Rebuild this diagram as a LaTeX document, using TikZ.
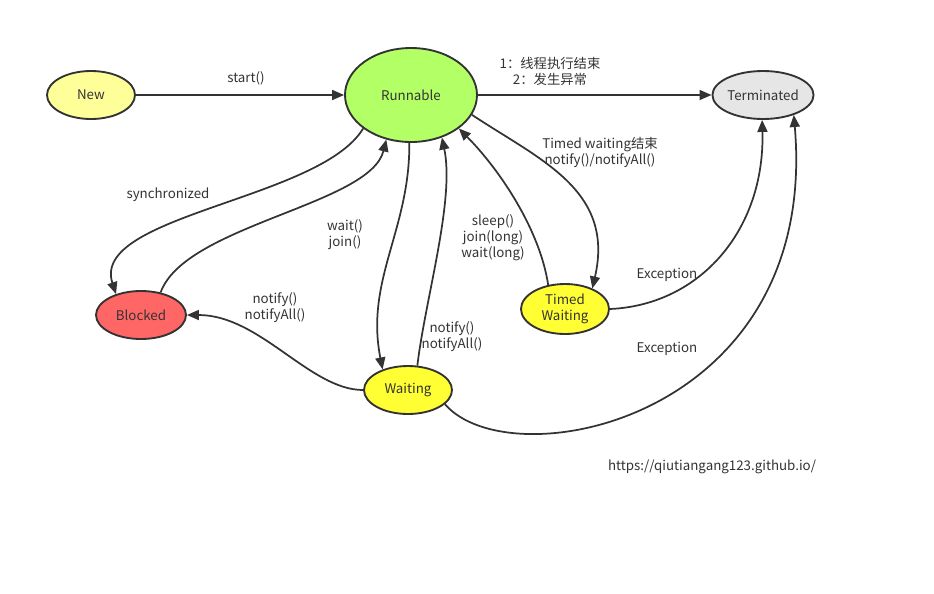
\documentclass[tikz,border=0pt]{standalone}
\usepackage{fontspec}
\setmainfont{Noto Sans CJK SC}
\usepackage{tikz}
\usetikzlibrary{arrows.meta,shapes.geometric}
\definecolor{edgegray}{HTML}{333333}
\definecolor{newfill}{HTML}{FFFF99}
\definecolor{runfill}{HTML}{B3FF66}
\definecolor{termfill}{HTML}{E6E6E6}
\definecolor{blockfill}{HTML}{FF6666}
\definecolor{waitfill}{HTML}{FFFF33}

\begin{document}
\begin{tikzpicture}[
  x=0.75pt, y=-0.75pt,
  state/.style={ellipse, draw=edgegray, line width=1.4pt, inner sep=0pt, align=center, text=edgegray, font=\fontsize{10pt}{12pt}\selectfont},
  lbl/.style={align=center, text=edgegray, inner sep=0pt, font=\fontsize{10pt}{12pt}\selectfont},
  arrow/.style={-{Triangle[length=9pt,width=7.5pt]}, line width=1.3pt, draw=edgegray}
]
\useasboundingbox (0,0) rectangle (934,593);

\node[state, fill=newfill, minimum width=66pt, minimum height=36pt] (new) at (91,95) {New};
\node[state, fill=runfill, minimum width=99pt, minimum height=70.5pt] (run) at (411,95) {Runnable};
\node[state, fill=termfill, minimum width=70.5pt, minimum height=36pt] (term) at (763,95) {Terminated};
\node[state, fill=blockfill, minimum width=67.5pt, minimum height=36pt] (blk) at (141,315) {Blocked};
\node[state, fill=waitfill, minimum width=66pt, minimum height=37.5pt] (timed) at (565,309) {Timed\\Waiting};
\node[state, fill=waitfill, minimum width=66pt, minimum height=36pt] (wait) at (408,390) {Waiting};

\node[lbl] (lstart) at (246,78) {start()};
\node[lbl] (lend) at (550,71) {1：线程执行结束\\2：发生异常};
\node[lbl] (lsync) at (168,195) {synchronized};
\node[lbl] (lwait) at (345,235) {wait()\\join()};
\node[lbl] (lsleep) at (493,238) {sleep()\\join(long)\\wait(long)};
\node[lbl] (ltimeout) at (600,152) {Timed waiting结束\\notify()/notifyAll()};
\node[lbl] (lnotifyb) at (275,308) {notify()\\notifyAll()};
\node[lbl] (lnotifyr) at (452,337) {notify()\\notifyAll()};
\node[lbl] (lexc) at (667,275) {Exception};
\node[lbl] (lexcw) at (667,349) {Exception};
\node[lbl] (url) at (712,467) {https://qiutiangang123.github.io/};

\draw[arrow] (new) -- (run);
\draw[arrow] (run) -- (term);
\draw[arrow] (run.215) .. controls (320,200) and (90,215) .. (blk.140);
\draw[arrow] (blk.49) .. controls (185,225) and (370,205) .. (run.241);
\draw[arrow] (run.268) .. controls (410,230) and (365,280) .. (wait.141);
\draw[arrow] (wait.69) .. controls (425,300) and (455,200) .. (run.306);
\draw[arrow] (wait.west) .. controls (310,390) and (260,315) .. (blk.east);
\draw[arrow] (timed.125) .. controls (540,230) and (500,170) .. (run.325);
\draw[arrow] (run.342) .. controls (540,160) and (615,190) .. (timed.37);
\draw[arrow] (timed.east) .. controls (700,305) and (765,230) .. (term.268);
\draw[arrow] (wait.339) .. controls (510,480) and (820,420) .. (term.327);
\end{tikzpicture}
\end{document}
